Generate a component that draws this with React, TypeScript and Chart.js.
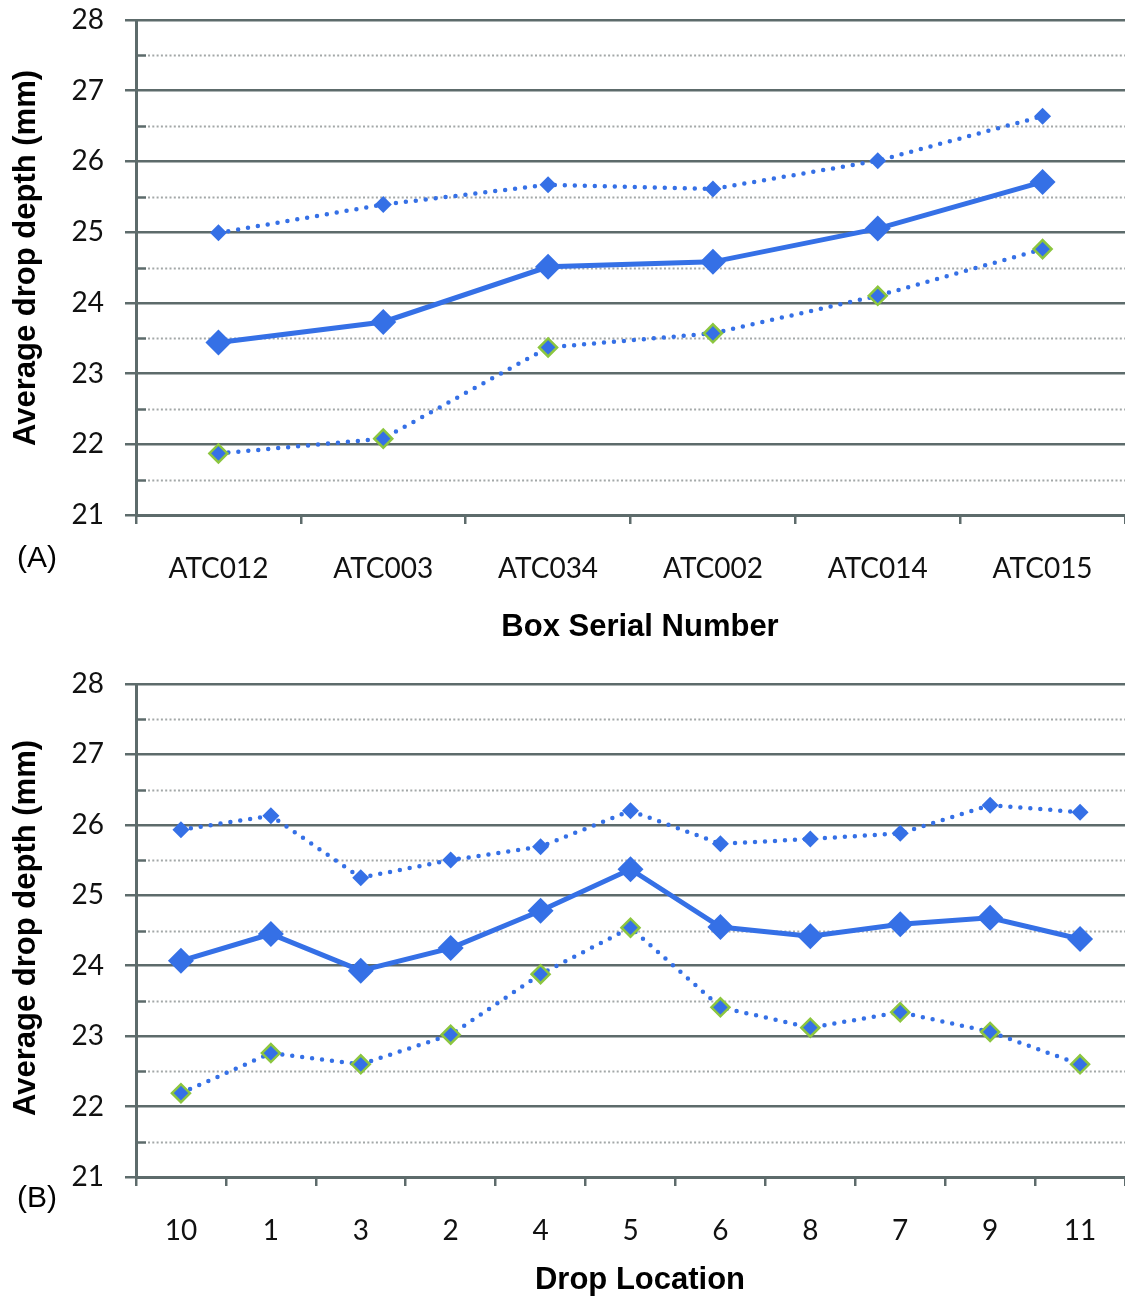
import React, { useEffect, useRef } from "react";
import { Chart, registerables } from "chart.js";

Chart.register(...registerables);

// Panel A: depth by box serial number
const boxSerials = ["ATC012", "ATC003", "ATC034", "ATC002", "ATC014", "ATC015"];
const boxUpper = [24.99, 25.39, 25.67, 25.61, 26.01, 26.64];
const boxMean = [23.44, 23.73, 24.51, 24.58, 25.05, 25.71];
const boxLower = [21.87, 22.08, 23.37, 23.57, 24.1, 24.76];

// Panel B: depth by drop location
const dropLocations = ["10", "1", "3", "2", "4", "5", "6", "8", "7", "9", "11"];
const dropUpper = [25.93, 26.13, 25.25, 25.5, 25.69, 26.2, 25.73, 25.8, 25.88, 26.28, 26.18];
const dropMean = [24.07, 24.45, 23.93, 24.25, 24.78, 25.37, 24.55, 24.42, 24.59, 24.68, 24.38];
const dropLower = [22.19, 22.76, 22.6, 23.02, 23.88, 24.54, 23.41, 23.12, 23.34, 23.06, 22.6];

const yTicks = [21, 22, 23, 24, 25, 26, 27, 28];
const yTitle = "Average drop depth (mm)";

const BLUE = "#3570e6";
const GREEN = "#8cc63f";
const AXIS = "#5d6b6b";
const MINOR = "#a3a8a8";
const TICK_FONT = { family: "Lato, 'Open Sans', sans-serif", size: 28 };
const TITLE_CSS = "bold 31px 'Liberation Sans', Arial, sans-serif";

// dotted half-unit grid lines with a short solid tick just inside the axis
const minorGrid = {
  id: "minorGrid",
  beforeDatasetsDraw(chart: any) {
    const { ctx, chartArea } = chart;
    const y = chart.scales.y;
    ctx.save();
    for (let i = 0; i < yTicks.length - 1; i++) {
      const v = (yTicks[i] + yTicks[i + 1]) / 2;
      const py = Math.round(y.getPixelForValue(v)) + 0.5;
      ctx.setLineDash([]);
      ctx.strokeStyle = AXIS;
      ctx.lineWidth = 2.5;
      ctx.beginPath();
      ctx.moveTo(chartArea.left, py);
      ctx.lineTo(chartArea.left + 10, py);
      ctx.stroke();
      ctx.strokeStyle = MINOR;
      ctx.lineWidth = 2;
      ctx.setLineDash([2, 2.3]);
      ctx.beginPath();
      ctx.moveTo(chartArea.left + 12, py);
      ctx.lineTo(chartArea.right, py);
      ctx.stroke();
    }
    ctx.restore();
  },
};

// bold axis titles, placed by the panel
const axisTitles = {
  id: "axisTitles",
  afterDraw(chart: any, _args: any, opts: any) {
    const { ctx } = chart;
    ctx.save();
    ctx.font = TITLE_CSS;
    ctx.fillStyle = "#000";
    ctx.textAlign = "center";
    ctx.textBaseline = "middle";
    ctx.fillText(opts.xText, opts.xTitleX, opts.xTitleY);
    ctx.translate(opts.yTitleX, opts.yTitleY);
    ctx.rotate(-Math.PI / 2);
    ctx.fillText(opts.yText, 0, 0);
    ctx.restore();
  },
};

interface PanelProps {
  labels: string[];
  upper: number[];
  mean: number[];
  lower: number[];
  xTitle: string;
  height: number;
  padTop: number;
  xHeight: number;
  xTitleY: number;
  yTitleY: number;
}

function Panel(p: PanelProps) {
  const ref = useRef<HTMLCanvasElement>(null);
  useEffect(() => {
    const dotted = {
      borderColor: BLUE,
      borderWidth: 4.5,
      borderDash: [0, 10],
      borderCapStyle: "round" as const,
      pointStyle: "rectRot" as const,
      pointBackgroundColor: BLUE,
      tension: 0,
    };
    const chart = new Chart(ref.current!, {
      type: "line",
      data: {
        labels: p.labels,
        datasets: [
          {
            label: "Upper",
            data: p.upper,
            ...dotted,
            pointRadius: 8.5,
            pointBorderColor: BLUE,
            pointBorderWidth: 0,
          },
          {
            label: "Mean",
            data: p.mean,
            borderColor: BLUE,
            borderWidth: 5,
            pointStyle: "rectRot",
            pointRadius: 13,
            pointBackgroundColor: BLUE,
            pointBorderColor: BLUE,
            pointBorderWidth: 0,
            tension: 0,
          },
          {
            label: "Lower",
            data: p.lower,
            ...dotted,
            pointRadius: 9,
            pointBorderColor: GREEN,
            pointBorderWidth: 2.5,
          },
        ],
      },
      options: {
        responsive: false,
        animation: false,
        devicePixelRatio: 1,
        layout: {
          autoPadding: false,
          padding: { top: p.padTop, left: 0, right: 0, bottom: 0 },
        },
        plugins: {
          legend: { display: false },
          tooltip: { enabled: false },
          axisTitles: {
            xText: p.xTitle,
            xTitleX: 640,
            xTitleY: p.xTitleY,
            yText: yTitle,
            yTitleX: 26,
            yTitleY: p.yTitleY,
          },
        } as any,
        scales: {
          x: {
            type: "category",
            offset: true,
            afterFit: (s: any) => {
              s.height = p.xHeight;
              s.paddingLeft = 0;
              s.paddingRight = 0;
            },
            grid: {
              offset: true,
              drawOnChartArea: false,
              drawTicks: true,
              tickLength: 9,
              lineWidth: 2.5,
              color: AXIS,
            },
            border: { display: true, color: AXIS, width: 3 },
            ticks: {
              font: TICK_FONT,
              color: "#111",
              padding: 28,
              maxRotation: 0,
              autoSkip: false,
            },
          },
          y: {
            min: yTicks[0],
            max: yTicks[yTicks.length - 1],
            afterFit: (s: any) => {
              s.width = 136;
              s.paddingTop = 0;
              s.paddingBottom = 0;
            },
            afterBuildTicks: (s: any) => {
              s.ticks = yTicks.map((v) => ({ value: v }));
            },
            grid: {
              color: AXIS,
              lineWidth: 2.5,
              tickLength: 11,
              tickColor: AXIS,
              tickWidth: 2.5,
            },
            border: { display: true, color: AXIS, width: 3 },
            ticks: {
              font: TICK_FONT,
              color: "#111",
              padding: 21,
            },
          },
        },
      },
      plugins: [minorGrid, axisTitles],
    });
    return () => chart.destroy();
  }, []);
  return <canvas ref={ref} width={1125} height={p.height} style={{ display: "block" }} />;
}

const panelTag: React.CSSProperties = {
  position: "absolute",
  left: 17,
  fontFamily: "'Liberation Sans', Arial, sans-serif",
  fontSize: 30,
  lineHeight: "30px",
  color: "#000",
};

export default function App() {
  return (
    <div
      style={{
        position: "absolute",
        top: 0,
        left: 0,
        width: 1125,
        height: 1298,
        overflow: "hidden",
        background: "#fff",
      }}
    >
      <div style={{ position: "absolute", top: 0, left: 0 }}>
        <Panel
          labels={boxSerials}
          upper={boxUpper}
          mean={boxMean}
          lower={boxLower}
          xTitle="Box Serial Number"
          height={648}
          padTop={20}
          xHeight={133}
          xTitleY={627}
          yTitleY={258}
        />
      </div>
      <div style={{ position: "absolute", top: 648, left: 0 }}>
        <Panel
          labels={dropLocations}
          upper={dropUpper}
          mean={dropMean}
          lower={dropLower}
          xTitle="Drop Location"
          height={652}
          padTop={36}
          xHeight={123}
          xTitleY={632}
          yTitleY={280}
        />
      </div>
      <div style={{ ...panelTag, top: 542 }}>(A)</div>
      <div style={{ ...panelTag, top: 1182 }}>(B)</div>
    </div>
  );
}
